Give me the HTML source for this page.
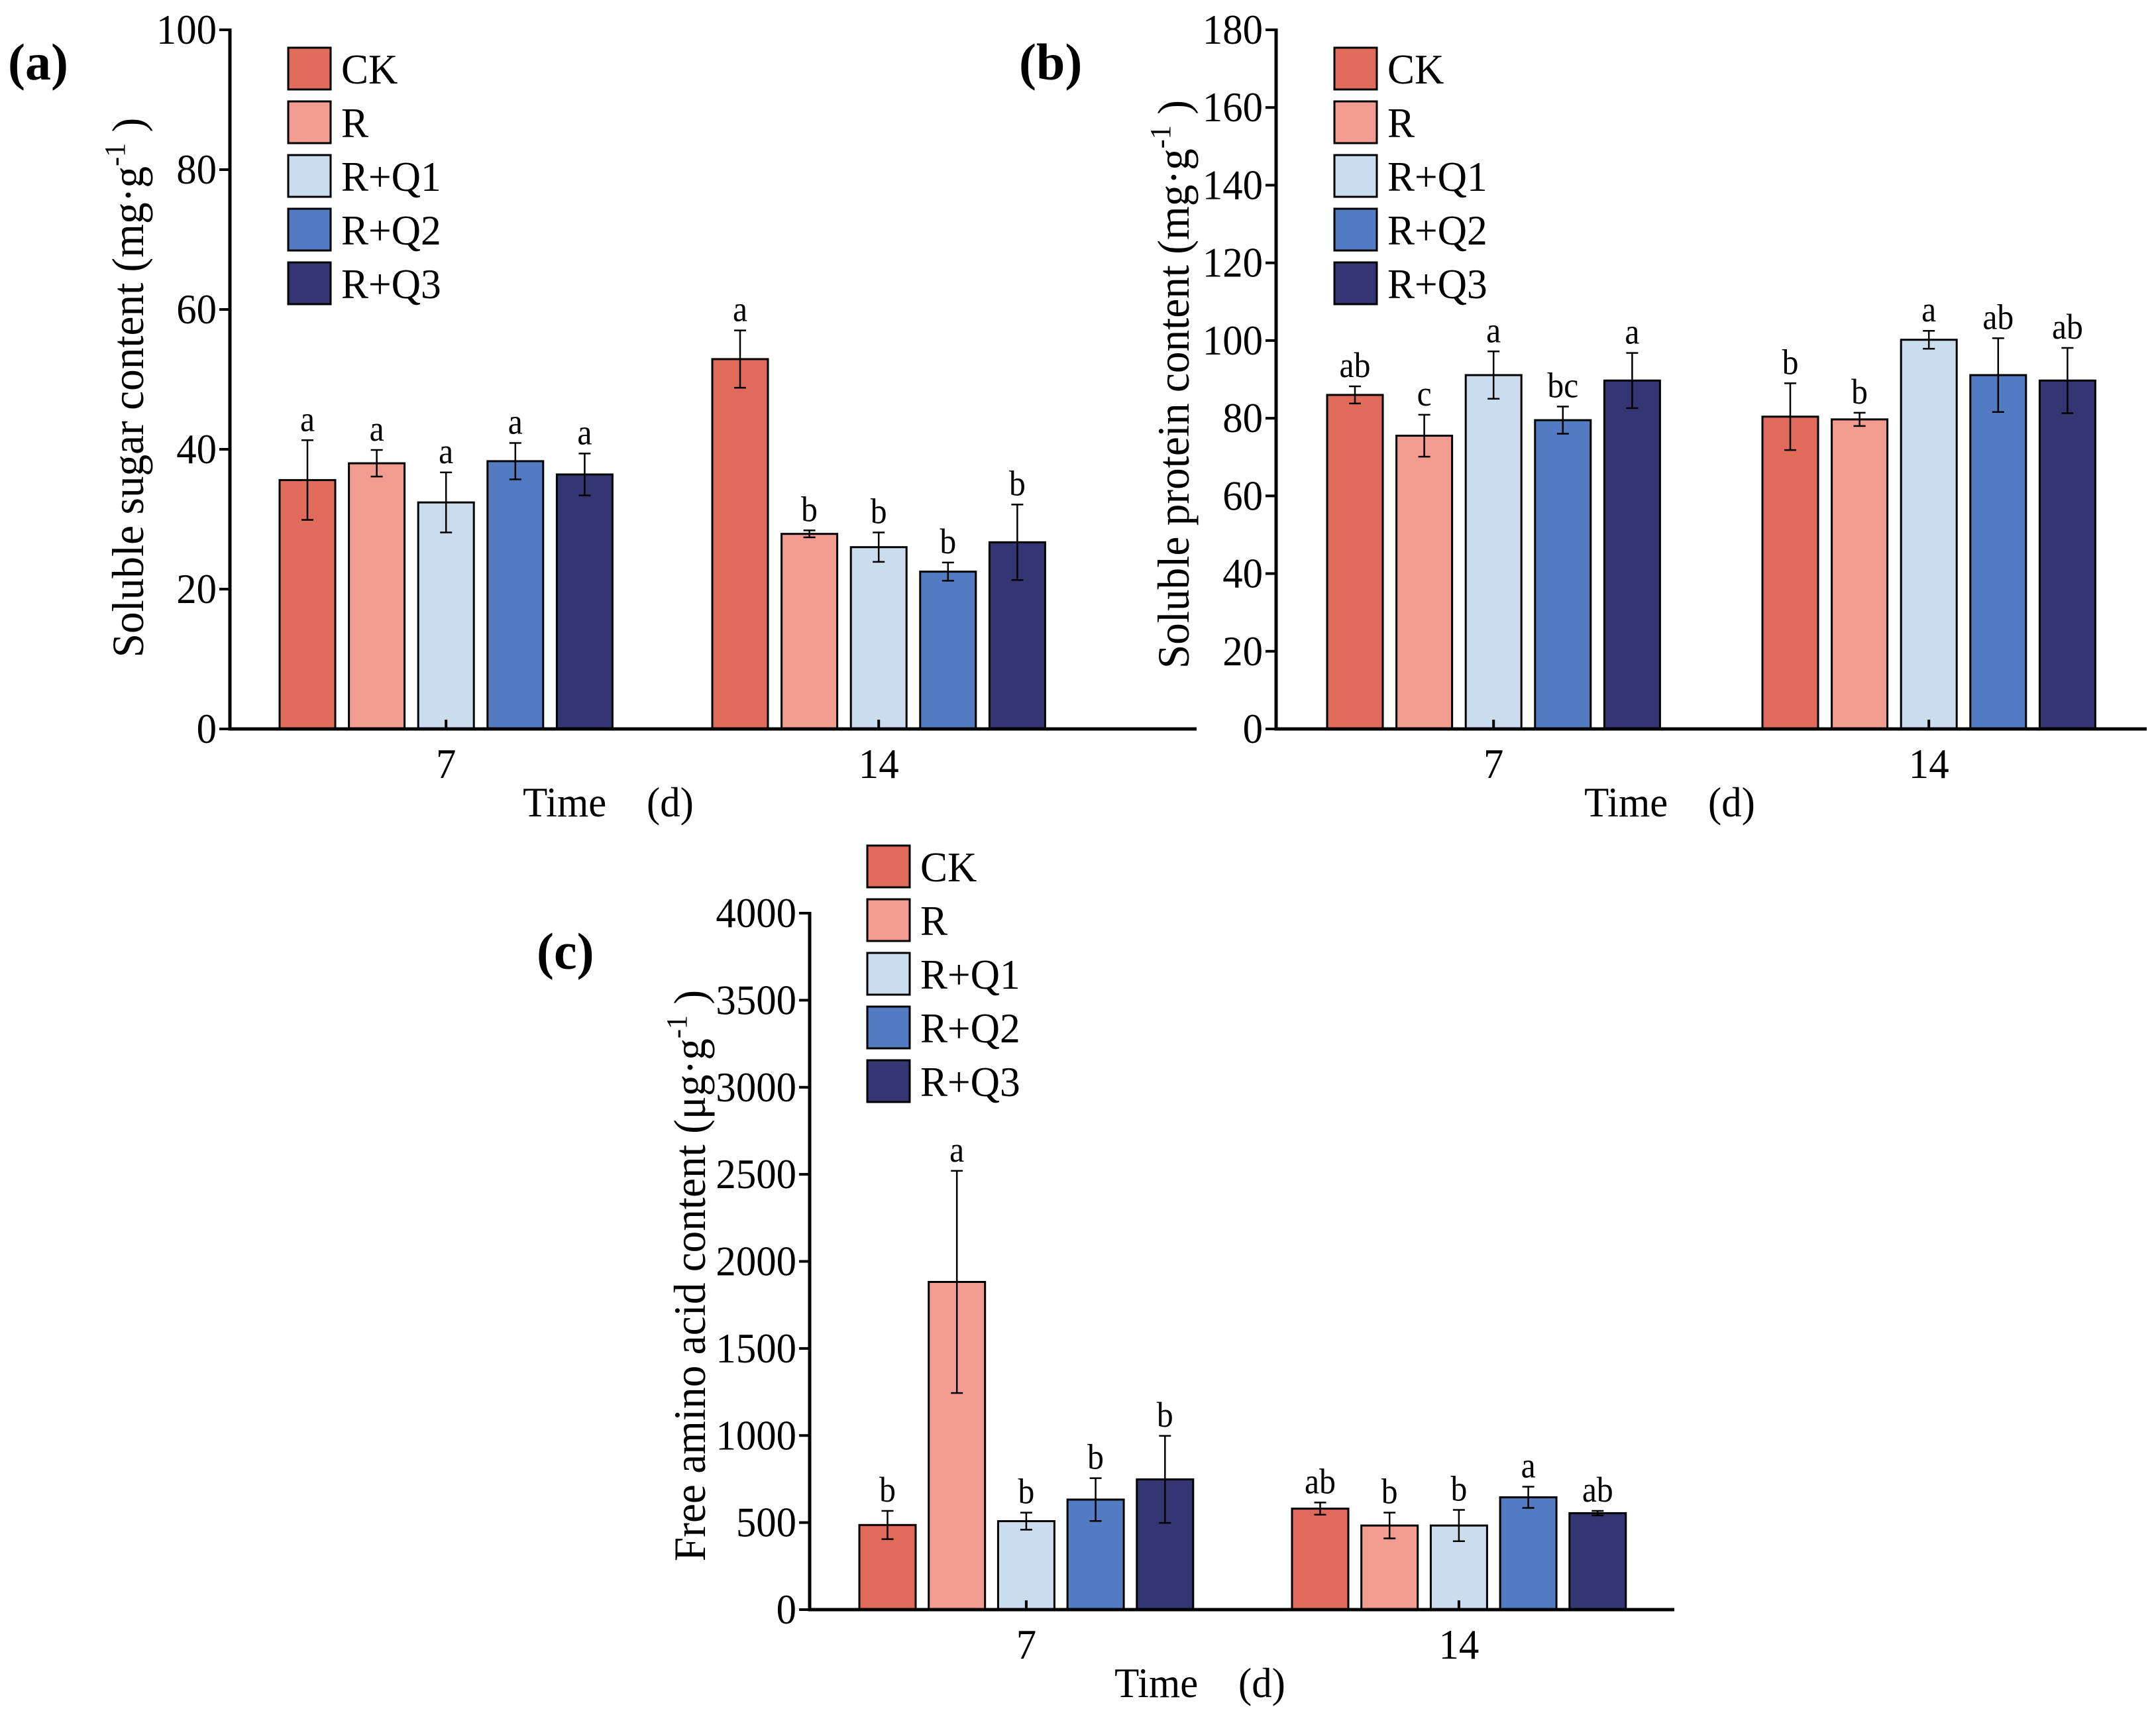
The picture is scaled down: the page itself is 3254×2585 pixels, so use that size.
<!DOCTYPE html>
<html><head><meta charset="utf-8"><style>
html,body{margin:0;padding:0;background:#fff;}
svg{display:block;}
text{font-family:"Liberation Serif","Noto Serif CJK SC","DejaVu Serif",serif;fill:#000;}
</style></head><body>
<svg id="fig" width="3254" height="2585" viewBox="0 0 3254 2585" xmlns="http://www.w3.org/2000/svg"></svg>
<script>
const categories = ["7", "14"];
const seriesNames = ["CK", "R", "R+Q1", "R+Q2", "R+Q3"];
const colors = ["#E06B5A", "#F29B91", "#C9DDEE", "#527BC1", "#343573"];

// Panel (a) soluble sugar
const sugarVals = [[35.6, 38.0, 32.4, 38.3, 36.4], [52.9, 27.9, 26.0, 22.5, 26.7]];
const sugarErr = [[5.7, 1.9, 4.3, 2.6, 3.0], [4.1, 0.5, 2.1, 1.3, 5.4]];
const sugarLetters = [["a", "a", "a", "a", "a"], ["a", "b", "b", "b", "b"]];
const sugarTicks = [0, 20, 40, 60, 80, 100];

// Panel (b) soluble protein
const proteinVals = [[86.0, 75.5, 91.1, 79.5, 89.7], [80.4, 79.7, 100.2, 91.1, 89.7]];
const proteinErr = [[2.2, 5.4, 6.1, 3.5, 7.1], [8.6, 1.7, 2.3, 9.5, 8.4]];
const proteinLetters = [["ab", "c", "a", "bc", "a"], ["b", "b", "a", "ab", "ab"]];
const proteinTicks = [0, 20, 40, 60, 80, 100, 120, 140, 160, 180];

// Panel (c) free amino acid
const aminoVals = [[486, 1882, 508, 632, 748], [580, 483, 483, 645, 554]];
const aminoErr = [[81, 638, 49, 123, 250], [35, 74, 90, 61, 13]];
const aminoLetters = [["b", "a", "b", "b", "b"], ["ab", "b", "b", "a", "ab"]];
const aminoTicks = [0, 500, 1000, 1500, 2000, 2500, 3000, 3500, 4000];

const NS = "http://www.w3.org/2000/svg";
const svg = document.getElementById("fig");
function mk(tag, attrs, parent) {
  const e = document.createElementNS(NS, tag);
  for (const k in attrs) e.setAttribute(k, attrs[k]);
  (parent || svg).appendChild(e);
  return e;
}
function txt(parent, x, y, s, size, anchor, sx) {
  const t = mk("text", {transform: `translate(${x},${y}) scale(${sx || 0.92},1)`, "font-size": size, "text-anchor": anchor || "start"}, parent);
  t.textContent = s;
  return t;
}

function panel(cfg) {
  const g = mk("g", {});
  
  
  const ax = cfg.axX, y0 = cfg.y0, yTop = cfg.yTop, max = cfg.ticks[cfg.ticks.length - 1];
  const yS = v => y0 - (v / max) * (y0 - yTop);
  const barX = (gi, si) => cfg.groupStart[gi] + si * cfg.pitch;

  cfg.vals.forEach((grp, gi) => grp.forEach((v, si) => {
    const x = barX(gi, si);
    const r = mk("rect", {x: x, y: yS(v), width: cfg.bw, height: y0 - yS(v), fill: colors[si], stroke: "#000", "stroke-width": 3}, g);
    
    
    const cx = x + cfg.bw / 2, e = cfg.err[gi][si];
    const eb = mk("path", {d: `M${cx},${yS(v + e)}V${yS(v - e)}M${cx - 9},${yS(v + e)}H${cx + 9}M${cx - 9},${yS(v - e)}H${cx + 9}`, stroke: "#000", "stroke-width": 2.5, fill: "none"}, g);
    
    
    const lt = txt(g, cx, yS(v + e) - 14, cfg.letters[gi][si], 54, "middle");
    
    
  }));

  const axes = mk("path", {d: `M${ax},${yTop - 2}V${y0}H${cfg.axEnd}`, stroke: "#000", "stroke-width": 5, fill: "none"}, g);
  
  
  cfg.ticks.forEach(t => {
    const y = yS(t);
    mk("line", {x1: ax - 16, x2: ax, y1: y, y2: y, stroke: "#000", "stroke-width": 4}, g);
    const tl = txt(g, ax - 20, y + 21, String(t), 64, "end", 0.95);
    
    
  });
  categories.forEach((c, gi) => {
    const cx = barX(gi, 2) + cfg.bw / 2;
    mk("line", {x1: cx, x2: cx, y1: y0, y2: y0 - 14, stroke: "#000", "stroke-width": 4}, g);
    const tl = txt(g, cx, y0 + 74, c, 64, "middle", 0.95);
    
    
  });
  const xt = txt(g, cfg.timeX, y0 + 132, "Time\u3000(d)", 64, "middle", 0.95);
  
  

  const yt = mk("text", {transform: `translate(${cfg.ytX},${cfg.ytY}) rotate(-90) scale(0.96,1)`, "font-size": 68, "text-anchor": "middle"}, g);
  
  
  const t1 = mk("tspan", {}, yt); t1.textContent = cfg.ytitle;
  const t2 = mk("tspan", {"font-size": 44, dy: -28}, yt); t2.textContent = "-1";
  const t3 = mk("tspan", {dy: 28}, yt); t3.textContent = " )";

  seriesNames.forEach((n, i) => {
    const ly = cfg.legY + i * 81;
    const sw = mk("rect", {x: cfg.legX, y: ly, width: 64, height: 63, fill: colors[i], stroke: "#000", "stroke-width": 3}, g);
    
    
    const lt = txt(g, cfg.legX + 80, ly + 54, n, 64, "start", 0.96);
    
    
  });

  const pl = mk("text", {x: cfg.labX, y: cfg.labY, "font-size": 78, "font-weight": "bold"}, g);
  pl.textContent = cfg.label;
  
  
}

panel({name: "panel-a-soluble-sugar", axX: 347, axEnd: 1806, y0: 1100, yTop: 45, ticks: sugarTicks,
  vals: sugarVals, err: sugarErr, letters: sugarLetters, groupStart: [422, 1075], pitch: 104.6, bw: 84,
  timeX: 918, ytX: 216, ytY: 585, ytitle: "Soluble sugar content (mg·g",
  legX: 435, legY: 72, label: "(a)", labX: 12, labY: 120});

panel({name: "panel-b-soluble-protein", axX: 1926, axEnd: 3240, y0: 1100, yTop: 45, ticks: proteinTicks,
  vals: proteinVals, err: proteinErr, letters: proteinLetters, groupStart: [2003, 2660], pitch: 104.6, bw: 84,
  timeX: 2520, ytX: 1794, ytY: 580, ytitle: "Soluble protein content (mg·g",
  legX: 2014, legY: 72, label: "(b)", labX: 1538, labY: 120});

panel({name: "panel-c-free-amino-acid", axX: 1222, axEnd: 2527, y0: 2429, yTop: 1378, ticks: aminoTicks,
  vals: aminoVals, err: aminoErr, letters: aminoLetters, groupStart: [1297, 1950], pitch: 104.7, bw: 85,
  timeX: 1811, ytX: 1064, ytY: 1925, ytitle: "Free amino acid content (μg·g",
  legX: 1309, legY: 1276, label: "(c)", labX: 810, labY: 1462});
</script>
</body></html>
